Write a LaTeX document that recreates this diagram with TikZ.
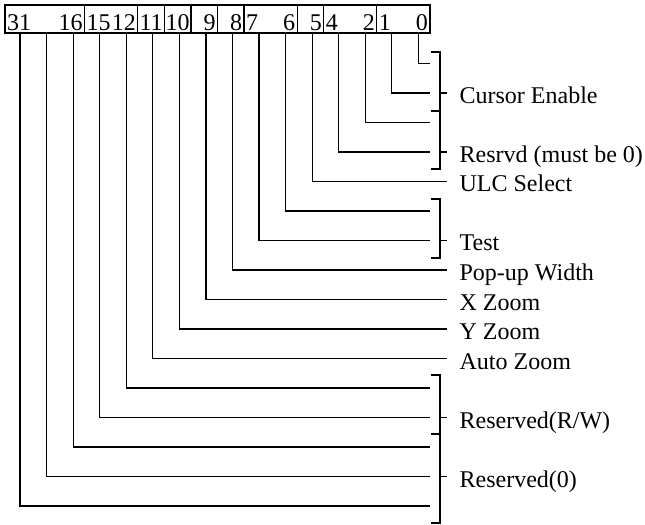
\documentclass[tikz,border=0pt]{standalone}
\usepackage{fontspec}
\setmainfont{Liberation Serif}
\usetikzlibrary{positioning}

\tikzset{
  every node/.style={font=\fontsize{24bp}{28bp}\selectfont},
  bitcell/.style={draw, text width=#1*26.5625bp-4bp, align=right, inner xsep=2bp, inner ysep=2.5bp,
    text height=23bp, text depth=0bp, outer sep=0pt},
  field/.style={anchor=west, inner xsep=12bp, inner ysep=0pt, text height=21bp, text depth=0bp},
}

\begin{document}
\begin{tikzpicture}[x=1bp, y=-1bp, line width=1.2bp]
\useasboundingbox (0,0) rectangle (645,525);

% register fields
\node[bitcell=3, anchor=north west] (b31) at (5,5) {31\hfill16};
\node[bitcell=2, right=0pt of b31] (b15) {15\hfill12};
\node[bitcell=1, right=0pt of b15] (b11) {\makebox[\linewidth]{11}};
\node[bitcell=1, right=0pt of b11] (b10) {\makebox[\linewidth]{10}};
\node[bitcell=1, right=0pt of b10] (b9) {9};
\node[bitcell=1, right=0pt of b9] (b8) {8};
\node[bitcell=2, right=0pt of b8] (b7) {7\hfill6};
\node[bitcell=1, right=0pt of b7] (b5) {5};
\node[bitcell=2, right=0pt of b5] (b4) {4\hfill2};
\node[bitcell=2, right=0pt of b4] (b1) {1\hfill0};

% line ends at the brackets
\coordinate (r0) at (430,63.5);
\coordinate (r1) at (430,93);
\coordinate (r2) at (430,122.5);
\coordinate (r3) at (430,152);
\coordinate (r5) at (430,211);
\coordinate (r6) at (430,240.5);
\coordinate (r11) at (430,388);
\coordinate (r12) at (430,417.5);
\coordinate (r13) at (430,447);
\coordinate (r14) at (430,476.5);
\coordinate (r15) at (430,506);

% descriptions
\node[field] (cursor) at (447,93) {Cursor Enable};
\node[field] (resrvd) at (447,152) {Resrvd (must be 0)};
\node[field] (ulc) at (447,181.5) {ULC Select};
\node[field] (test) at (447,240.5) {Test};
\node[field] (popup) at (447,270) {Pop-up Width};
\node[field] (xzoom) at (447,299.5) {X Zoom};
\node[field] (yzoom) at (447,329) {Y Zoom};
\node[field] (autozoom) at (447,358.5) {Auto Zoom};
\node[field] (resrw) at (447,417.5) {Reserved(R/W)};
\node[field] (res0) at (447,476.5) {Reserved(0)};

% bit lines
\draw ([xshift=41.56bp]b1.south west) |- (r0);
\draw ([xshift=15bp]b1.south west) |- (r1);
\draw ([xshift=41.56bp]b4.south west) |- (r2);
\draw ([xshift=15bp]b4.south west) |- (r3);
\draw ([xshift=15bp]b5.south west) |- (ulc.west);
\draw ([xshift=41.56bp]b7.south west) |- (r5);
\draw ([xshift=15bp]b7.south west) |- (r6);
\draw ([xshift=15bp]b8.south west) |- (popup.west);
\draw ([xshift=15bp]b9.south west) |- (xzoom.west);
\draw ([xshift=15bp]b10.south west) |- (yzoom.west);
\draw ([xshift=15bp]b11.south west) |- (autozoom.west);
\draw ([xshift=41.56bp]b15.south west) |- (r11);
\draw ([xshift=15bp]b15.south west) |- (r12);
\draw ([xshift=68.13bp]b31.south west) |- (r13);
\draw ([xshift=41.56bp]b31.south west) |- (r14);
\draw ([xshift=15bp]b31.south west) |- (r15);

% brackets
\draw (431,52) -| (440,111) -- (431,111);
\draw (440,111) |- (431,169);
\draw (431,199) -| (440,258) -- (431,258);
\draw (431,375) -| (440,434) -- (431,434);
\draw (440,434) |- (431,523);
\draw (cursor.west) -- ++(-7,0);
\draw (resrvd.west) -- ++(-7,0);
\draw (test.west) -- ++(-7,0);
\draw (resrw.west) -- ++(-7,0);
\draw (res0.west) -- ++(-7,0);

\end{tikzpicture}
\end{document}
